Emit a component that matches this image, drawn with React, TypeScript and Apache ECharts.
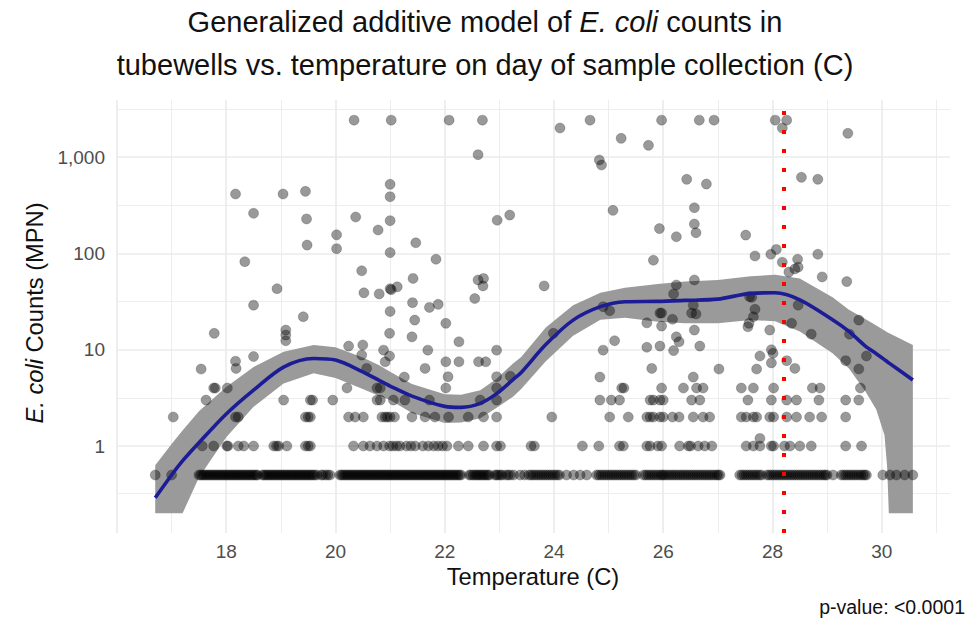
import React, { useEffect, useRef } from 'react';
import * as echarts from 'echarts';

// ---------- axis ticks ----------
const xTickValues = [18, 20, 22, 24, 26, 28, 30];
const xMinorTicks = [17, 19, 21, 23, 25, 27, 29, 31];
const yTickValues = [1, 10, 100, 1000];
const yTickLabels = ['1', '10', '100', '1,000'];
const yMinorTicks = [0.3162, 3.162, 31.62, 316.2, 3162];
const xMin = 16;
const xMax = 31.25;
const yMin = 0.125;
const yMax = 3917;

// ---------- vertical reference line ----------
const refTemp = 28.2;

// ---------- GAM fit and confidence band ----------
const gamTemp = [16.7, 17.0, 17.2, 17.5, 18.0, 18.5, 19.05, 19.6, 20.0, 20.5, 20.8, 21.0, 21.4, 22.0, 22.3, 22.65, 22.95, 23.25, 23.4, 23.85, 24.35, 24.85, 25.3, 25.9, 26.4, 27.0, 27.6, 28.05, 28.5, 29.1, 29.4, 29.7, 29.9, 30.05, 30.1, 30.13, 30.57];
const gamFit = [0.29, 0.5, 0.7, 1.08, 2.15, 3.8, 6.6, 8.1, 7.8, 5.9, 4.8, 4.2, 3.3, 2.58, 2.52, 2.77, 3.5, 4.9, 5.8, 11.3, 20.3, 28, 31.5, 31.8, 32.5, 33.5, 38.5, 39, 33, 20.5, 15.5, 10.9, 9.1, 7.9, 7.5, 7.3, 4.85];
const gamLo = [0.2, 0.2, 0.2, 0.47, 1.23, 2.55, 4.45, 5.7, 5.1, 3.9, 3.3, 3.0, 2.2, 1.73, 1.75, 1.94, 2.5, 3.25, 3.9, 7.6, 14, 20.5, 21.5, 19.5, 18.8, 18.8, 20.3, 19.8, 15.5, 9.2, 6.4, 3.7, 2.4, 1.3, 0.6, 0.2, 0.2];
const gamHi = [0.63, 1.05, 1.45, 2.3, 4.1, 6.6, 9.5, 11.2, 10.6, 8.3, 6.9, 5.9, 4.4, 3.45, 3.4, 3.8, 5.0, 7.2, 8.4, 17, 29, 39, 44, 48, 51, 53, 58, 60, 55, 35, 26, 20.8, 17.8, 15.8, 15.2, 14.9, 11.2];

// ---------- observations (temperature, E. coli MPN) ----------
// samples at the detection floor (0.5 MPN)
const nd05Temps = [
  16.7, 17.0,
  17.5, 17.56, 17.62, 17.68, 17.74, 17.8, 17.86, 17.92, 17.98, 18.04, 18.1, 18.16, 18.22, 18.28, 18.34, 18.4, 18.46, 18.52, 18.57,
  18.66, 18.72, 18.78, 18.84, 18.9, 18.96, 19.02, 19.08, 19.14, 19.2, 19.26, 19.32, 19.38, 19.44, 19.5, 19.56, 19.62, 19.66,
  19.74, 19.82, 19.9,
  20.08, 20.14, 20.2, 20.26, 20.32, 20.38, 20.44, 20.5, 20.56, 20.62, 20.68, 20.74, 20.8, 20.86, 20.92, 20.98,
  21.04, 21.1, 21.16, 21.22, 21.28, 21.34, 21.4, 21.46, 21.52, 21.58, 21.64, 21.7, 21.76, 21.82, 21.88, 21.94, 22.0, 22.06, 22.12, 22.18, 22.24, 22.3,
  22.45, 22.52, 22.58, 22.64, 22.7, 22.76, 22.82,
  22.92, 22.98, 23.05, 23.12, 23.2, 23.26,
  23.38, 23.46, 23.54, 23.62, 23.7, 23.78, 23.86, 23.94, 24.02, 24.1,
  24.23, 24.36, 24.48, 24.6,
  24.78, 24.86, 24.94, 25.02, 25.1, 25.18, 25.26, 25.34, 25.42, 25.5,
  25.64, 25.72, 25.8, 25.88, 25.96, 26.02,
  26.1, 26.18, 26.26, 26.34, 26.42, 26.5, 26.58, 26.66, 26.74, 26.82, 26.9, 26.98, 27.04,
  27.4, 27.48, 27.56, 27.64, 27.72, 27.8,
  27.9, 27.98, 28.06, 28.14, 28.22, 28.3, 28.38, 28.46, 28.54, 28.62, 28.7, 28.78, 28.86, 28.94, 29.0,
  29.11, 29.26, 29.34, 29.42, 29.5, 29.58, 29.66, 29.72,
  30.02, 30.15, 30.27, 30.42, 30.57,
];
// further detection-floor samples in the densely sampled temperatures
const nd05MoreTemps = [
  17.53, 17.59, 17.65, 17.71, 17.77, 17.83, 17.89, 17.95, 18.01, 18.07, 18.13, 18.19, 18.25, 18.31, 18.37, 18.43, 18.49, 18.55,
  18.69, 18.75, 18.81, 18.87, 18.93, 18.99, 19.05, 19.11, 19.17, 19.23, 19.29, 19.35, 19.41, 19.47, 19.53, 19.59,
  19.77, 19.86,
  20.11, 20.17, 20.23, 20.29, 20.35, 20.41, 20.47, 20.53, 20.59, 20.65, 20.71, 20.77, 20.83, 20.89, 20.95, 21.01, 21.07, 21.13,
  21.19, 21.25, 21.31, 21.37, 21.43, 21.49, 21.55, 21.61, 21.67, 21.73, 21.79, 21.85, 21.91, 21.97, 22.03, 22.09, 22.15, 22.21, 22.27,
  22.48, 22.55, 22.61, 22.67, 22.73, 22.79,
  22.95, 23.02, 23.16,
  23.58, 23.66, 23.74, 23.82, 23.9, 23.98, 24.06,
  24.82, 24.9, 24.98, 25.06, 25.14, 25.22, 25.3, 25.38, 25.46,
  25.68, 25.76, 25.84, 25.92, 25.99, 26.06, 26.14, 26.22, 26.3, 26.38, 26.46, 26.54, 26.62, 26.7, 26.78, 26.86, 26.94, 27.01,
  27.44, 27.52, 27.6, 27.68, 27.76,
  27.94, 28.02, 28.1, 28.18, 28.26, 28.34, 28.42, 28.5, 28.58, 28.66, 28.74, 28.82, 28.9, 28.97,
  29.3, 29.38, 29.46, 29.54, 29.62, 29.69,
];
const mpn1Temps = [
  17.56, 17.77, 18.01, 18.03, 18.22, 18.32, 18.5, 18.87, 18.92, 18.96, 19.11, 19.45, 19.5, 19.54, 20.33, 20.51, 20.63, 20.76, 20.88, 20.99,
  21.05, 21.12, 21.18, 21.3, 21.38, 21.46, 21.6, 21.7, 21.8, 21.88, 21.96, 22.04, 22.25, 22.43, 22.71, 22.95, 23.02, 23.58, 23.64,
  24.52, 24.82, 25.2, 25.27, 25.7, 25.9,
  25.76, 25.97, 26.3, 26.46, 26.5, 26.64, 26.76, 26.89, 27.52, 27.65, 27.77, 27.98, 28.02, 28.22, 28.32, 28.5, 28.71, 29.34, 29.63,
];
const mpn2Temps = [
  17.03, 18.17, 18.22, 19.45, 19.5, 19.54, 20.24, 20.36, 20.51, 20.91, 20.95,
  20.85, 21.0, 21.08, 21.4, 21.64, 21.82, 22.07, 22.43, 22.71, 22.95, 23.96,
  25.02, 25.36, 25.7, 25.82, 25.94,
  25.76, 26.0, 26.17, 26.29, 26.55, 26.73, 26.85, 27.43, 27.52, 27.65, 27.71, 27.95, 28.02, 28.26, 28.44, 28.68, 28.9, 29.34,
];
const mpn3Temps = [
  17.63, 19.05, 19.54, 19.58, 19.95, 20.76,
  20.82, 21.06, 21.27, 21.72, 22.65, 22.95,
  24.84, 25.05, 25.2, 25.82, 25.94,
  25.76, 26.0, 26.52, 26.67, 27.55, 27.98, 28.26, 28.44, 28.85, 29.34, 29.58,
];
const mpn4Temps = [
  17.77, 17.8, 18.02, 20.21, 20.76, 20.82, 22.02, 22.95, 25.24, 25.28,
  25.97, 26.37, 26.61, 26.73, 27.43, 27.65, 28.02, 28.73, 28.87, 29.61,
];
const maxMpnTemps = [20.34, 21.02, 22.08, 22.69, 24.66, 25.97, 26.66, 26.93, 28.05, 28.26];
const maxMpn = 2420;
const otherPoints: [number, number][] = [
  [24.11, 2004], [28.18, 2004], [29.38, 1766], [25.23, 1567], [25.73, 1325], [22.61, 1060], [24.83, 933], [24.87, 828],
  [18.17, 414], [19.04, 414], [19.45, 441], [18.5, 261], [19.47, 228], [20.37, 239], [20.78, 175], [20.02, 156],
  [19.48, 122], [20.02, 112], [21.0, 522], [21.0, 388], [21.0, 219], [21.0, 102], [18.34, 82], [20.48, 66],
  [18.93, 43], [20.52, 39], [20.8, 38], [21.0, 43],
  [21.47, 129], [22.96, 221], [23.19, 250], [25.08, 280], [21.84, 87], [25.82, 85], [25.93, 181], [21.42, 55],
  [21.02, 42], [21.13, 45], [22.61, 53], [22.71, 55], [22.7, 46], [23.82, 46], [22.55, 34],
  [26.43, 588], [26.79, 525], [28.53, 617], [28.83, 588], [26.57, 298], [26.57, 202], [26.6, 164], [26.24, 149],
  [27.51, 155], [27.68, 94], [27.97, 98], [28.07, 110], [28.18, 81], [28.46, 87], [28.3, 64], [28.41, 69],
  [28.47, 72], [28.83, 98], [28.91, 57], [29.36, 51], [26.24, 47], [26.19, 38], [26.57, 53], [27.62, 35],
  [18.5, 29], [19.41, 22], [17.78, 14.8], [19.09, 16], [19.09, 14.2], [19.09, 12.4], [20.24, 10.9], [20.5, 11.2],
  [20.99, 14.8], [21.0, 25], [18.17, 7.6], [18.18, 6.4], [18.5, 8.5], [17.54, 6.3], [20.48, 8.8], [20.57, 6.4],
  [20.88, 9.9], [20.91, 7.5],
  [21.41, 30.8], [21.72, 27.5], [21.88, 29.6], [21.45, 20.3], [21.4, 13.6], [22.02, 18.8], [22.26, 12.1], [20.99, 8.6],
  [21.69, 9.9], [22.02, 7.5], [22.26, 7.5], [22.62, 7.5], [22.75, 7.5], [22.95, 9.9], [21.64, 6.4], [21.26, 5.2],
  [22.06, 5.25], [22.95, 5.25], [23.2, 5.3], [23.99, 14.8], [24.9, 28], [25.02, 25.4], [25.11, 12.4], [24.9, 9.9],
  [25.7, 19], [25.7, 10.6], [25.94, 24], [25.79, 6.4], [24.84, 5.2],
  [25.97, 24], [26.17, 20.7], [26.52, 24], [26.6, 23.5], [26.55, 29], [25.97, 17.6], [26.57, 16], [26.24, 13.6],
  [26.29, 12.1], [25.94, 10.9], [26.19, 9.8], [26.67, 10.9], [27.02, 6.3], [27.58, 35.5], [27.68, 26.3], [27.65, 22],
  [27.57, 18.8], [27.55, 17.3], [27.95, 16], [28.47, 29], [28.35, 18.8], [28.71, 14.5], [29.58, 20.3], [29.41, 14.5],
  [27.98, 10], [28.01, 9.2], [27.77, 8.6], [27.98, 7.3], [28.26, 7.7], [28.41, 6.4], [27.71, 6.3], [29.34, 7.7],
  [29.72, 8.6], [29.58, 6.3], [26.55, 5.2], [27.77, 1.2],
];

const FONT = '"Liberation Sans", Arial, Helvetica, sans-serif';

export default function App() {
  const ref = useRef<HTMLDivElement>(null);

  useEffect(() => {
    document.body.style.margin = '0';
    if (!ref.current) return;
    const chart = echarts.init(ref.current, null, { renderer: 'svg' });

    const scatterData: [number, number][] = [
      ...nd05Temps.map((t) => [t, 0.5] as [number, number]),
      ...nd05MoreTemps.map((t) => [t, 0.5] as [number, number]),
      ...mpn1Temps.map((t) => [t, 1] as [number, number]),
      ...mpn2Temps.map((t) => [t, 2] as [number, number]),
      ...mpn3Temps.map((t) => [t, 3] as [number, number]),
      ...mpn4Temps.map((t) => [t, 4] as [number, number]),
      ...maxMpnTemps.map((t) => [t, maxMpn] as [number, number]),
      ...otherPoints,
    ];
    const fitData = gamTemp.map((t, i) => [t, gamFit[i]]);

    const xFormatter = (v: number) => {
      const r = Math.round(v * 1000) / 1000;
      return xTickValues.indexOf(r) >= 0 ? String(r) : '';
    };
    const yFormatter = (v: number) => {
      for (let i = 0; i < yTickValues.length; i++) {
        if (Math.abs(v - yTickValues[i]) / yTickValues[i] < 1e-6) return yTickLabels[i];
      }
      return '';
    };

    const gridColor = '#ebebeb';

    const option: any = {
      animation: false,
      grid: { left: 117, right: 21, top: 100, bottom: 89, containLabel: false },
      xAxis: {
        type: 'value',
        min: xMin,
        max: xMax,
        interval: 2,
        axisLine: { show: false },
        axisTick: { show: false },
        axisLabel: { margin: 9, fontSize: 19, color: '#4d4d4d', fontFamily: FONT, formatter: xFormatter },
        splitLine: { show: true, showMinLine: true, showMaxLine: false, lineStyle: { color: gridColor, width: 1.7 } },
      },
      yAxis: {
        type: 'log',
        logBase: 10,
        min: yMin,
        max: yMax,
        axisLine: { show: false },
        axisTick: { show: false },
        axisLabel: { margin: 12, fontSize: 19, color: '#4d4d4d', fontFamily: FONT, formatter: yFormatter },
        splitLine: { show: true, showMinLine: false, showMaxLine: false, lineStyle: { color: gridColor, width: 1.7 } },
      },
      series: [
        {
          name: 'minor-grid',
          type: 'scatter',
          z: 0,
          silent: true,
          symbolSize: 0,
          data: [[xMin, 1]],
          markLine: {
            z: 0,
            silent: true,
            symbol: ['none', 'none'],
            label: { show: false },
            lineStyle: { color: gridColor, width: 0.9, type: 'solid' },
            emphasis: { disabled: true },
            data: [
              ...xMinorTicks.map((v) => ({ xAxis: v })),
              ...yMinorTicks.map((v) => ({ yAxis: v })),
            ],
          },
        },
        {
          name: 'confidence band',
          type: 'custom',
          z: 1,
          silent: true,
          data: [[gamTemp[0], gamFit[0]]],
          renderItem: (params: any, api: any) => {
            const upper = gamTemp.map((t, i) => api.coord([t, gamHi[i]]));
            const lower = gamTemp.map((t, i) => api.coord([t, gamLo[i]])).reverse();
            return {
              type: 'polygon',
              shape: { points: upper.concat(lower) },
              style: { fill: '#9a9a9a' },
            };
          },
        },
        {
          name: 'samples',
          type: 'scatter',
          z: 2,
          symbol: 'circle',
          symbolSize: 10,
          itemStyle: { color: 'rgba(0,0,0,0.5)', borderColor: 'rgba(0,0,0,0.25)', borderWidth: 1 },
          data: scatterData,
        },
        {
          name: 'GAM fit',
          type: 'line',
          z: 3,
          smooth: 0.3,
          showSymbol: false,
          symbol: 'none',
          lineStyle: { color: '#1c1c96', width: 3.6 },
          data: fitData,
          markLine: {
            silent: true,
            symbol: ['none', 'none'],
            label: { show: false },
            lineStyle: { color: '#ff0000', width: 4, type: [4, 15], cap: 'butt' },
            emphasis: { disabled: true },
            data: [{ xAxis: refTemp }],
          },
        },
      ],
      graphic: [
        {
          type: 'text',
          x: 485,
          y: 22,
          z: 10,
          style: {
            text: '{n|Generalized additive model of }{i|E. coli}{n| counts in}',
            align: 'center',
            verticalAlign: 'middle',
            rich: {
              n: { fontSize: 29, fontFamily: FONT, fill: '#111111' },
              i: { fontSize: 29, fontFamily: FONT, fontStyle: 'italic', fill: '#111111' },
            },
          },
        },
        {
          type: 'text',
          x: 485,
          y: 65,
          z: 10,
          style: {
            text: 'tubewells vs. temperature on day of sample collection (C)',
            align: 'center',
            verticalAlign: 'middle',
            fontSize: 29,
            fontFamily: FONT,
            fill: '#111111',
          },
        },
        {
          type: 'text',
          x: 35,
          y: 313,
          z: 10,
          rotation: Math.PI / 2,
          style: {
            text: '{i|E. coli}{n| Counts (MPN)}',
            align: 'center',
            verticalAlign: 'middle',
            rich: {
              n: { fontSize: 23.7, fontFamily: FONT, fill: '#111111' },
              i: { fontSize: 23.7, fontFamily: FONT, fontStyle: 'italic', fill: '#111111' },
            },
          },
        },
        {
          type: 'text',
          x: 533,
          y: 577,
          z: 10,
          style: {
            text: 'Temperature (C)',
            align: 'center',
            verticalAlign: 'middle',
            fontSize: 23.7,
            fontFamily: FONT,
            fill: '#111111',
          },
        },
        {
          type: 'text',
          x: 965,
          y: 607,
          z: 10,
          style: {
            text: 'p-value: <0.0001',
            align: 'right',
            verticalAlign: 'middle',
            fontSize: 19.5,
            fontFamily: FONT,
            fill: '#111111',
          },
        },
      ],
    };

    chart.setOption(option);
    return () => chart.dispose();
  }, []);

  return <div ref={ref} style={{ width: 971, height: 622 }} />;
}
